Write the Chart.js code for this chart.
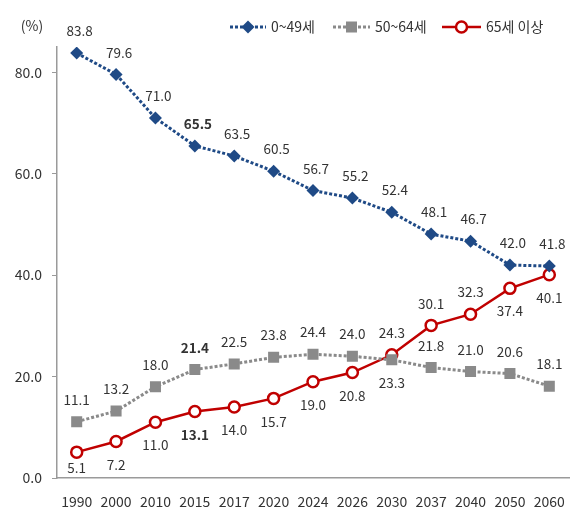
<!DOCTYPE html>
<html>
<head>
<meta charset="utf-8">
<script src="https://cdn.jsdelivr.net/npm/chart.js@4"></script>
<style>
  html, body { margin: 0; padding: 0; background: #fff; }
  #wrap { width: 587px; height: 520px; }
</style>
</head>
<body>
<div id="wrap"><canvas id="graphe" width="587" height="520"></canvas></div>
<script>
// données (%)
const annees = ['1990', '2000', '2010', '2015', '2017', '2020', '2024', '2026', '2030', '2037', '2040', '2050', '2060'];
const age0a49 = [83.8, 79.6, 71.0, 65.5, 63.5, 60.5, 56.7, 55.2, 52.4, 48.1, 46.7, 42.0, 41.8];
const age50a64 = [11.1, 13.2, 18.0, 21.4, 22.5, 23.8, 24.4, 24.0, 23.3, 21.8, 21.0, 20.6, 18.1];
const age65plus = [5.1, 7.2, 11.0, 13.1, 14.0, 15.7, 19.0, 20.8, 24.3, 30.1, 32.3, 37.4, 40.1];
const nomsSeries = ['0~49세', '50~64세', '65세 이상'];
const ticksY = [0, 20, 40, 60, 80];

const police = "'Noto Sans CJK KR', 'Noto Sans', sans-serif";
const bleu = '#1f4a86';
const gris = '#8a8a8a';
const rouge = '#c00000';
const texte = '#333333';

// étiquettes en gras (2015) et étiquettes sous le point
const indexGras = 3;
const dessous = [[], [8], [0, 1, 2, 3, 4, 5, 6, 7, 11, 12]];

const etiquettes = {
    id: 'etiquettes',
    afterDatasetsDraw(chart) {
        let ctx = chart.ctx;
        let basMax = chart.chartArea.bottom - 10;
        ctx.save();
        ctx.textAlign = 'center';
        ctx.textBaseline = 'middle';
        ctx.fillStyle = texte;
        chart.data.datasets.forEach(function (ds, di) {
            let meta = chart.getDatasetMeta(di);
            meta.data.forEach(function (pt, i) {
                let bas = dessous[di].includes(i);
                let dx = di === 0 ? 3 : 0;
                let y = bas ? Math.min(pt.y + 23, basMax) : pt.y - 22;
                ctx.font = (i === indexGras ? 'bold ' : '') + '13.5px ' + police;
                ctx.fillText(ds.data[i].toFixed(1), pt.x + dx, y);
            });
        });
        ctx.restore();
    }
};

function marqueur(ctx, type, x, y) {
    ctx.save();
    ctx.setLineDash([]);
    if (type === 0) {
        ctx.fillStyle = bleu;
        ctx.beginPath();
        ctx.moveTo(x, y - 6.5); ctx.lineTo(x + 6.5, y); ctx.lineTo(x, y + 6.5); ctx.lineTo(x - 6.5, y);
        ctx.closePath();
        ctx.fill();
    } else if (type === 1) {
        ctx.fillStyle = gris;
        ctx.fillRect(x - 5.5, y - 5.5, 11, 11);
    } else {
        ctx.fillStyle = '#fff';
        ctx.strokeStyle = rouge;
        ctx.lineWidth = 2.5;
        ctx.beginPath();
        ctx.arc(x, y, 5.5, 0, Math.PI * 2);
        ctx.fill();
        ctx.stroke();
    }
    ctx.restore();
}

const legende = {
    id: 'legende',
    afterDraw(chart) {
        let ctx = chart.ctx;
        ctx.save();
        ctx.font = '14px ' + police;
        ctx.fillStyle = texte;
        ctx.textBaseline = 'middle';
        ctx.textAlign = 'center';
        ctx.fillText('(%)', 32, 26);

        let items = [
            {x1: 230, x2: 266, couleur: bleu, pointille: true},
            {x1: 333, x2: 370, couleur: gris, pointille: true},
            {x1: 442, x2: 481, couleur: rouge, pointille: false}
        ];
        let y = 27;
        ctx.textAlign = 'left';
        items.forEach(function (it, k) {
            ctx.strokeStyle = it.couleur;
            ctx.lineWidth = it.pointille ? 3 : 2.5;
            ctx.setLineDash(it.pointille ? [3, 2] : []);
            ctx.beginPath();
            ctx.moveTo(it.x1, y);
            ctx.lineTo(it.x2, y);
            ctx.stroke();
            marqueur(ctx, k, (it.x1 + it.x2) / 2, y);
            ctx.fillStyle = texte;
            ctx.fillText(nomsSeries[k], it.x2 + 5, y);
        });
        ctx.restore();
    }
};

let cvs = document.getElementById('graphe').getContext('2d');
let graphe = new Chart(cvs, {
    type: 'line',
    data: {
        labels: annees,
        datasets: [{
            label: nomsSeries[0],
            data: age0a49,
            borderColor: bleu,
            borderWidth: 3,
            borderDash: [3, 2],
            pointStyle: 'rectRot',
            pointRadius: 6.5,
            pointBackgroundColor: bleu,
            pointBorderColor: bleu,
            pointBorderWidth: 0
        }, {
            label: nomsSeries[1],
            data: age50a64,
            borderColor: gris,
            borderWidth: 3,
            borderDash: [3, 2],
            pointStyle: 'rect',
            pointRadius: 7.8,
            pointBackgroundColor: gris,
            pointBorderColor: gris,
            pointBorderWidth: 0
        }, {
            label: nomsSeries[2],
            data: age65plus,
            borderColor: rouge,
            borderWidth: 2.5,
            pointStyle: 'circle',
            pointRadius: 5.5,
            pointBackgroundColor: '#fff',
            pointBorderColor: rouge,
            pointBorderWidth: 2.5
        }]
    },
    options: {
        responsive: false,
        animation: false,
        layout: {padding: {left: 0, right: 18, top: 47, bottom: 0}},
        plugins: {
            legend: {display: false},
            tooltip: {enabled: false}
        },
        scales: {
            x: {
                offset: true,
                grid: {display: false},
                border: {display: true, color: '#9a9a9a', width: 1.5},
                ticks: {padding: 7, color: texte, font: {family: police, size: 14}, maxRotation: 0},
                afterFit: function (s) { s.height = 42; }
            },
            y: {
                min: 0,
                max: 85,
                grid: {display: true, drawOnChartArea: false, drawTicks: true, tickLength: 5, color: '#9a9a9a'},
                border: {display: true, color: '#9a9a9a', width: 1.5},
                ticks: {
                    padding: 10,
                    color: texte,
                    font: {family: police, size: 14},
                    callback: function (v) { return v.toFixed(1); }
                },
                afterBuildTicks: function (s) {
                    s.ticks = ticksY.map(function (v) { return {value: v}; });
                },
                afterFit: function (s) { s.width = 57; }
            }
        }
    },
    plugins: [etiquettes, legende]
});
</script>
</body>
</html>
